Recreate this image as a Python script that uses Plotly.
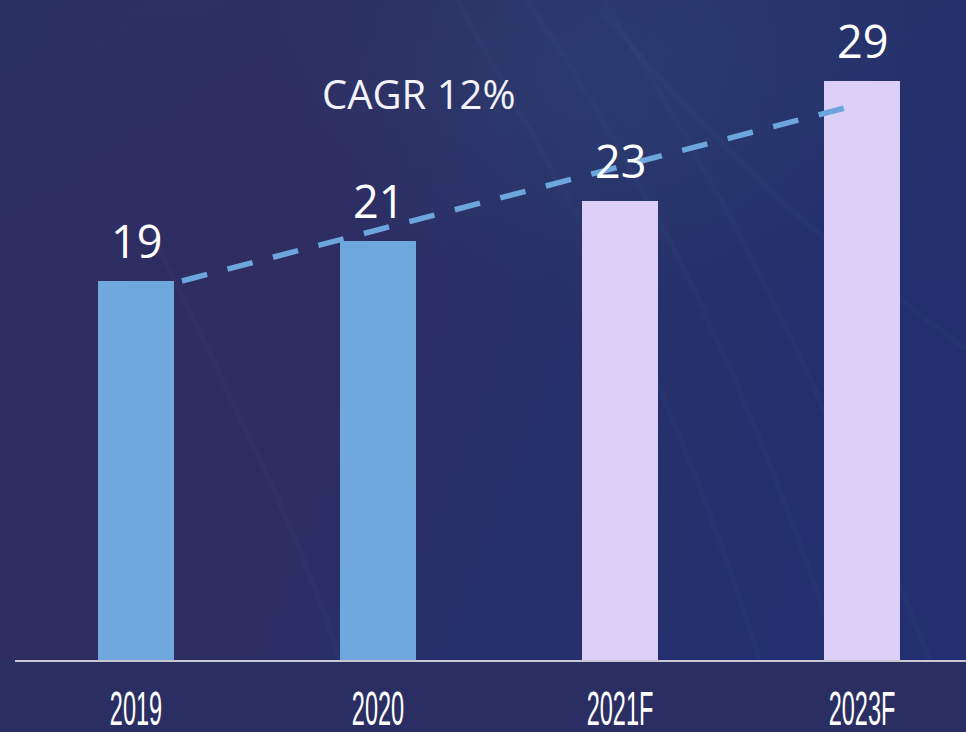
import base64
import plotly.graph_objects as go

categories = ["2019", "2020", "2021F", "2023F"]
values = [19, 21, 23, 29]
bar_colors = ["#6fa8dc", "#6fa8dc", "#dcd0f8", "#dcd0f8"]
cagr_label = "CAGR 12%"
cagr_x = [0.19, 2.96]
cagr_y = [19, 27.75]

W, H = 966, 732

svg = f'''<svg xmlns="http://www.w3.org/2000/svg" width="{W}" height="{H}" viewBox="0 0 {W} {H}">
<defs>
<linearGradient id="g" x1="0" y1="0" x2="1" y2="0.3">
<stop offset="0" stop-color="#2c2f62"/>
<stop offset="0.4" stop-color="#2f2c60"/>
<stop offset="0.7" stop-color="#26306a"/>
<stop offset="1" stop-color="#232f6e"/>
</linearGradient>
<linearGradient id="v" x1="0" y1="0" x2="0" y2="1">
<stop offset="0" stop-color="#2a3468" stop-opacity="0.5"/>
<stop offset="0.5" stop-color="#2a3468" stop-opacity="0"/>
</linearGradient>
<radialGradient id="r" cx="0.62" cy="0.2" r="0.35">
<stop offset="0" stop-color="#2e4a78" stop-opacity="0.4"/>
<stop offset="1" stop-color="#2e4a78" stop-opacity="0"/>
</radialGradient>
</defs>
<rect width="{W}" height="{H}" fill="url(#g)"/>
<rect width="{W}" height="{H}" fill="url(#v)"/>
<rect width="{W}" height="{H}" fill="url(#r)"/>
<g stroke="#5a7ab0" stroke-opacity="0.06" stroke-width="6" fill="none">
<path d="M420 0 C 520 200 640 350 760 732"/>
<path d="M480 0 C 600 180 720 360 840 732"/>
<path d="M560 0 C 650 150 760 300 930 732"/>
<path d="M600 80 C 700 200 800 300 966 420"/>
<path d="M150 300 C 220 450 300 600 340 732"/>
</g>
</svg>'''
src = "data:image/svg+xml;base64," + base64.b64encode(svg.encode()).decode()

fig = go.Figure()
fig.add_trace(go.Bar(
    x=list(range(len(categories))), y=values,
    marker=dict(color=bar_colors, line=dict(width=0)),
    width=0.314, hoverinfo="skip", showlegend=False,
))
fig.add_trace(go.Scatter(
    x=cagr_x, y=cagr_y, mode="lines",
    line=dict(color="#6ca6dc", width=5.5, dash="26px,21px"),
    hoverinfo="skip", showlegend=False,
))

for i, v in enumerate(values):
    fig.add_annotation(
        x=i, y=v, text=str(v), showarrow=False,
        yanchor="bottom", yshift=8,
        font=dict(family="Open Sans, Noto Sans, sans-serif", size=45, color="#ffffff"),
    )

fig.add_annotation(
    x=1.168, y=28.4, text=cagr_label, showarrow=False,
    font=dict(family="Open Sans, Noto Sans, sans-serif", size=40, color="#f2f2f7"),
)

fig.add_shape(type="line", xref="x", yref="paper", x0=-0.5, x1=3.5, y0=0, y1=0,
              line=dict(color="#c9c9d6", width=2))

fig.update_layout(
    width=W, height=H,
    margin=dict(l=0, r=0, t=0, b=71, autoexpand=False),
    paper_bgcolor="#2b2e62", plot_bgcolor="rgba(0,0,0,0)",
    xaxis=dict(range=[-136/242, (966-136)/242], tickvals=list(range(len(categories))),
               ticktext=categories, showgrid=False, zeroline=False, showline=False,
               ticks="", ticklabelstandoff=14, automargin=False,
               tickfont=dict(family="Liberation Sans, Arial, sans-serif", size=49, color="#ffffff")),
    yaxis=dict(range=[0, 661/20], visible=False, automargin=False),
    images=[dict(source=src, xref="paper", yref="paper", x=0, y=732/661,
                 sizex=1, sizey=732/661, xanchor="left", yanchor="top",
                 sizing="stretch", layer="below")],
)

post = """
document.body.style.margin='0';
document.body.style.overflow='hidden';
var gd=document.getElementById('{plot_id}');
gd.querySelectorAll('.xtick text').forEach(function(t){
  var bb=t.getBBox(); var cx=bb.x+bb.width/2;
  var tr=t.getAttribute('transform')||'';
  t.setAttribute('transform',tr+' translate('+cx+',0) scale(0.48,1) translate('+(-cx)+',0)');
});
"""

fig.write_html("out.html", post_script=post, config={"displayModeBar": False, "staticPlot": True})
